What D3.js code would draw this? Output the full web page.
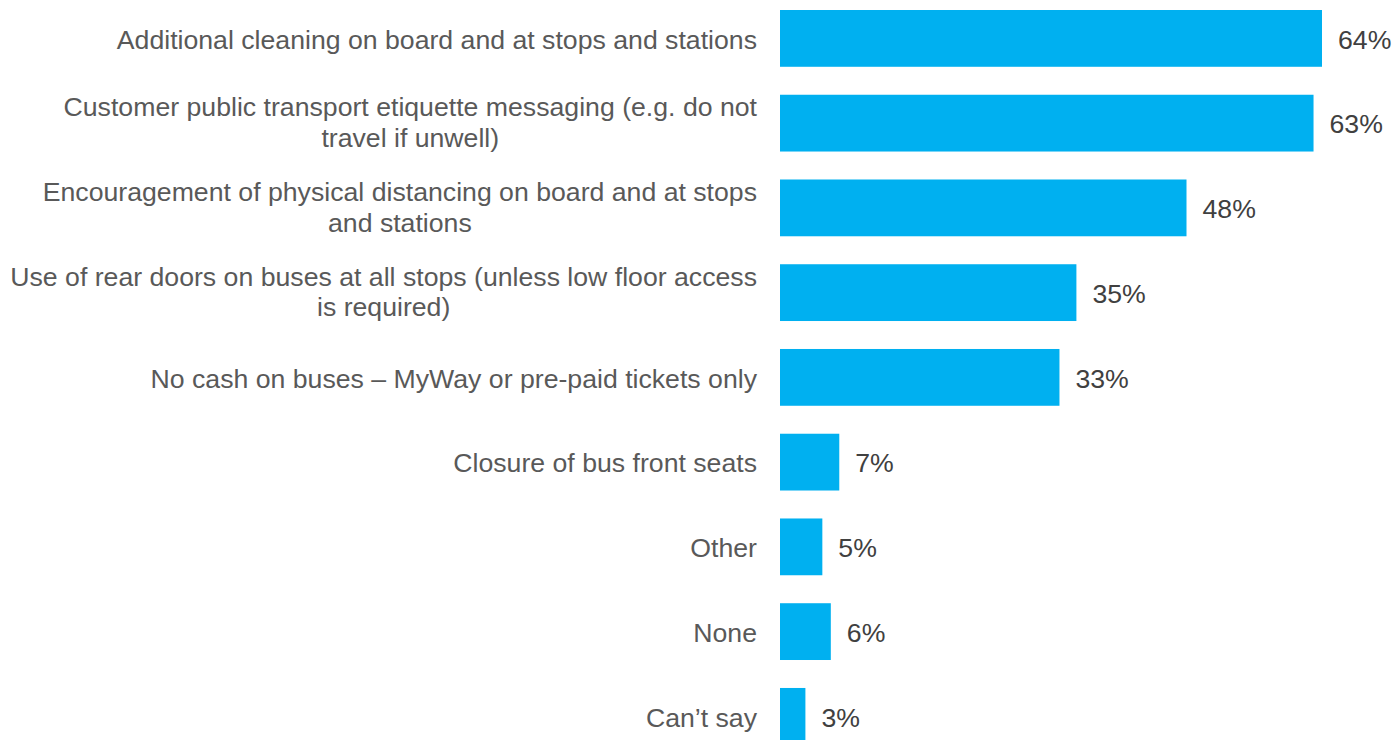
<!DOCTYPE html>
<html>
<head>
<meta charset="utf-8">
<script src="https://cdn.jsdelivr.net/npm/d3@7"></script>
<style>
  html, body { margin: 0; padding: 0; background: #ffffff; }
  svg { display: block; }
</style>
</head>
<body>
<svg id="chart" width="1394" height="740"></svg>
<script>
const categories = [
  "Additional cleaning on board and at stops and stations",
  "Customer public transport etiquette messaging (e.g. do not\ntravel if unwell)",
  "Encouragement of physical distancing on board and at stops\nand stations",
  "Use of rear doors on buses at all stops (unless low floor access\nis required)",
  "No cash on buses \u2013 MyWay or pre-paid tickets only",
  "Closure of bus front seats",
  "Other",
  "None",
  "Can\u2019t say"
];
const values = [64, 63, 48, 35, 33, 7, 5, 6, 3];
const valueLabels = ["64%", "63%", "48%", "35%", "33%", "7%", "5%", "6%", "3%"];

const data = categories.map((c, i) => ({ cat: c, value: values[i], label: valueLabels[i] }));

const svg = d3.select("#chart");
const fontFamily = "'Liberation Sans', Arial, sans-serif";
const fontSize = 26.67;
const lineHeight = 30.7;

const x = d3.scaleLinear().domain([0, 64]).range([780, 1322]);
const y = d3.scaleBand().domain(categories).range([10, 744.75]).paddingInner(0.33).paddingOuter(0);

// bars
svg.append("g").selectAll("rect")
  .data(data).join("rect")
  .attr("x", x(0))
  .attr("y", d => y(d.cat))
  .attr("width", d => x(d.value) - x(0))
  .attr("height", y.bandwidth())
  .attr("fill", "#00B0F0");

// value labels
svg.append("g").selectAll("text")
  .data(data).join("text")
  .attr("x", d => x(d.value) + 16)
  .attr("y", d => y(d.cat) + y.bandwidth() / 2 + 10.3)
  .attr("font-family", fontFamily)
  .attr("font-size", fontSize)
  .attr("fill", "#404040")
  .text(d => d.label);

// category axis (left, no domain line / ticks)
const axis = d3.axisLeft(y).tickSize(0).tickPadding(0).tickFormat("");
const axisG = svg.append("g").attr("transform", `translate(${x(0) - 23},0)`).call(axis);
axisG.select(".domain").remove();
axisG.selectAll(".tick").each(function(d) {
  const lines = d.split("\n");
  const g = d3.select(this);
  const n = lines.length;
  const texts = lines.map((ln, i) => {
    const off = 10.3 + (i - (n - 1) / 2) * lineHeight - (n > 1 ? 1.8 : 0);
    return g.append("text")
      .attr("font-family", fontFamily)
      .attr("font-size", fontSize)
      .attr("fill", "#595959")
      .attr("y", off)
      .text(ln);
  });
  if (n === 1) {
    texts[0].attr("text-anchor", "end").attr("x", 0);
  } else {
    const maxW = d3.max(texts, t => t.node().getComputedTextLength());
    texts.forEach(t => t.attr("text-anchor", "middle").attr("x", -maxW / 2));
  }
});
</script>
</body>
</html>
